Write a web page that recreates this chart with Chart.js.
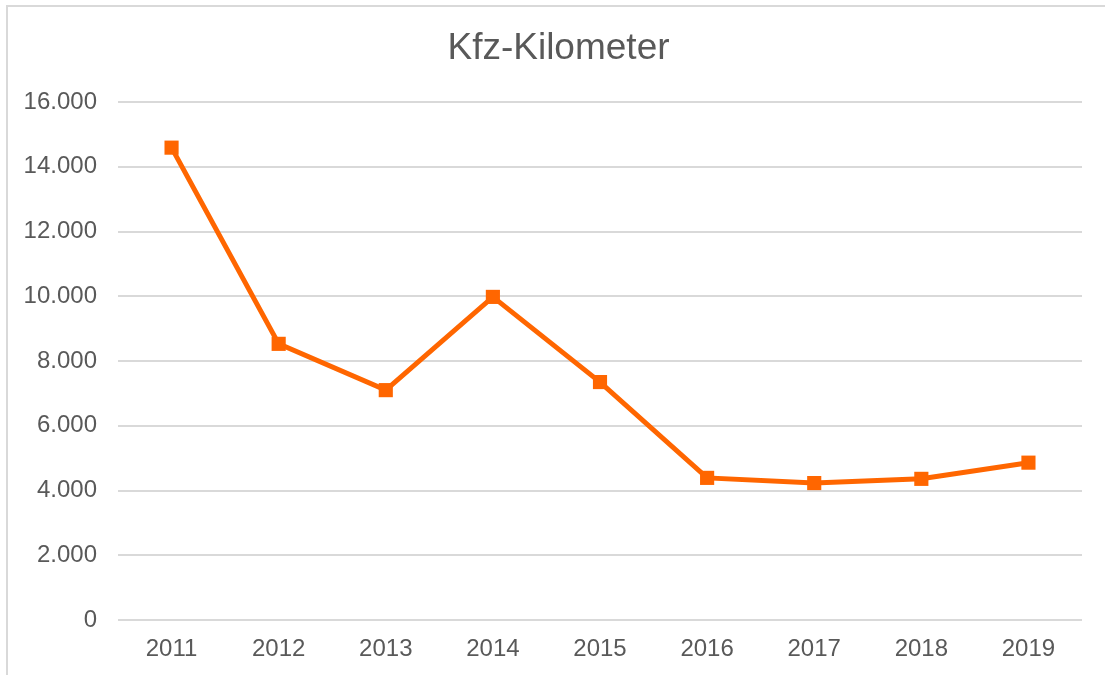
<!DOCTYPE html>
<html>
<head>
<meta charset="utf-8">
<script src="https://cdn.jsdelivr.net/npm/chart.js@4"></script>
<style>
    html, body { margin: 0; padding: 0; background: #fff; overflow: hidden; }
    #wrap { position: relative; width: 1105px; height: 675px; }
    #frame { position: absolute; left: 6px; top: 5px; width: 1200px; height: 800px; border: 2px solid #d9d9d9; }
    #kmChart { position: absolute; left: 0; top: 0; }
</style>
</head>
<body>
<div id="wrap">
    <div id="frame"></div>
    <canvas id="kmChart" width="1105" height="675"></canvas>
</div>
<script>
const years = ['2011', '2012', '2013', '2014', '2015', '2016', '2017', '2018', '2019'];
const kilometers = [14590, 8530, 7100, 9980, 7350, 4390, 4230, 4360, 4860];
const yTicks = [0, 2000, 4000, 6000, 8000, 10000, 12000, 14000, 16000];
const chartTitle = 'Kfz-Kilometer';

const textColor = '#595959';
const lineColor = '#FF6600';

// German style thousands separator
function formatDe(v) {
    return String(v).replace(/\B(?=(\d{3})+(?!\d))/g, '.');
}

// title centred over the frame rather than the chart area
const frameTitle = {
    id: 'frameTitle',
    afterDraw(chart) {
        const c = chart.ctx;
        c.save();
        c.fillStyle = textColor;
        c.font = '37px "Liberation Sans"';
        c.textAlign = 'center';
        c.textBaseline = 'middle';
        c.fillText(chartTitle, chart.width / 2 + 6, chart.chartArea.top - 53);
        c.restore();
    }
};

document.addEventListener('DOMContentLoaded', () => {
    const ctx = document.getElementById('kmChart').getContext('2d');
    new Chart(ctx, {
        type: 'line',
        data: {
            labels: years,
            datasets: [{
                label: chartTitle,
                data: kilometers,
                borderColor: lineColor,
                backgroundColor: lineColor,
                borderWidth: 5,
                tension: 0,
                pointStyle: 'rect',
                pointRadius: 10,
                pointBorderWidth: 0,
                pointBackgroundColor: lineColor
            }]
        },
        options: {
            responsive: false,
            animation: false,
            layout: {
                padding: { left: 0, right: 23, top: 102, bottom: 0 }
            },
            plugins: {
                legend: { display: false },
                tooltip: { enabled: false },
                title: { display: false }
            },
            scales: {
                x: {
                    offset: true,
                    grid: { display: false, drawTicks: false },
                    border: { display: false },
                    ticks: {
                        color: textColor,
                        font: { family: 'Liberation Sans', size: 24 },
                        padding: 15,
                        maxRotation: 0
                    },
                    afterFit: (scale) => { scale.height = 55; }
                },
                y: {
                    min: 0,
                    max: 16000,
                    afterBuildTicks: (scale) => {
                        scale.ticks = yTicks.map(v => ({ value: v }));
                    },
                    grid: { color: '#d9d9d9', lineWidth: 2, drawTicks: false },
                    border: { display: false },
                    ticks: {
                        color: textColor,
                        font: { family: 'Liberation Sans', size: 24 },
                        padding: 21,
                        callback: (v) => formatDe(v)
                    },
                    afterFit: (scale) => { scale.width = 118; }
                }
            }
        },
        plugins: [frameTitle]
    });
});
</script>
</body>
</html>
